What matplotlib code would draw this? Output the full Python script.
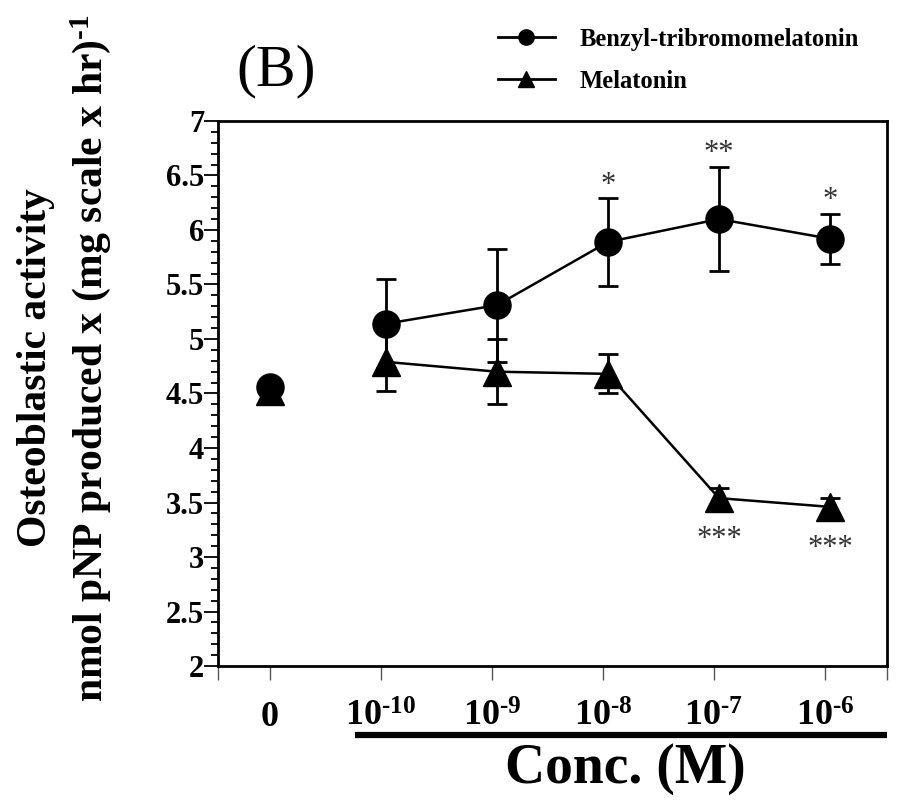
import numpy as np
import matplotlib
matplotlib.use("Agg")
from matplotlib import pyplot as plt
from matplotlib.lines import Line2D
from matplotlib.ticker import MultipleLocator

plt.rcParams['font.family'] = ['Liberation Serif', 'DejaVu Serif']
plt.rcParams['font.weight'] = 'bold'
plt.rcParams['mathtext.fontset'] = 'custom'
plt.rcParams['mathtext.rm'] = 'Liberation Serif:bold'
plt.rcParams['mathtext.bf'] = 'Liberation Serif:bold'
plt.rcParams['mathtext.it'] = 'Liberation Serif:bold'
plt.rcParams['mathtext.default'] = 'bf'

HY = '\u2010'  # plain hyphen, as in the original superscripts
conc_labels = ['0'] + [r'$10^{%s%d}$' % (HY, p) for p in (10, 9, 8, 7, 6)]
benzyl_mean = [4.56, 5.14, 5.31, 5.89, 6.10, 5.92]
benzyl_err = [0.0, 0.41, 0.52, 0.40, 0.48, 0.23]
melatonin_mean = [4.52, 4.79, 4.70, 4.68, 3.54, 3.46]
melatonin_err = [0.0, 0.27, 0.30, 0.18, 0.09, 0.08]
benzyl_stars = ['', '', '', '*', '**', '*']
melatonin_stars = ['', '', '', '', '***', '***']

xs = np.arange(len(conc_labels))
xp = xs + np.where(xs > 0, 0.045, 0.0)

fig = plt.figure(figsize=(8.97, 8.07), dpi=100)
ax = fig.add_axes([0.2430, 0.1747, 0.7459, 0.6754])

style = dict(color='black', markersize=19.5, linewidth=1.8, elinewidth=2.0,
             capsize=7, capthick=2.0)
# control (0) is not joined to the concentration series
ax.errorbar(xp[1:], melatonin_mean[1:], yerr=melatonin_err[1:], marker='^', zorder=3, **style)
ax.errorbar(xp[1:], benzyl_mean[1:], yerr=benzyl_err[1:], marker='o', zorder=4, **style)
ax.plot(xp[:1], melatonin_mean[:1], '^', color='black', markersize=19.5, zorder=3)
ax.plot(xp[:1], benzyl_mean[:1], 'o', color='black', markersize=19.5, zorder=4)

for x, m, e, s in zip(xp, benzyl_mean, benzyl_err, benzyl_stars):
    if s:
        ax.text(x, m + e + 0.12, s, ha='center', va='center', fontsize=22,
                fontweight='normal', color='#333333')
for x, m, s in zip(xp, melatonin_mean, melatonin_stars):
    if s:
        ax.text(x, m - 0.38, s, ha='center', va='center', fontsize=22,
                fontweight='normal', color='#333333')

ax.set_xlim(-0.468, 5.559)
ax.set_ylim(2, 7)
ax.set_xticks(list(xs) + [-0.468, 5.559])
ax.set_xticklabels(conc_labels + ['', ''])
ax.yaxis.set_minor_locator(MultipleLocator(0.1))
ax.set_yticks(np.arange(2, 7.01, 0.5))
ax.set_yticklabels(['2', '2.5', '3', '3.5', '4', '4.5', '5', '5.5', '6', '6.5', '7'])

ax.tick_params(axis='y', which='major', direction='out', length=10, width=1.3,
               labelsize=22, pad=0)
ax.tick_params(axis='y', which='minor', direction='out', length=5, width=1.3)
ax.tick_params(axis='x', which='major', direction='out', length=10, width=1.0,
               color='#555555', labelsize=26, pad=15)
for lab in ax.get_yticklabels():
    lab.set_fontweight('bold')

for sp in ax.spines.values():
    sp.set_linewidth(2.0)

# bar under the concentration labels
ax.plot([0.77, 5.559], [-0.1266, -0.1266], color='black', linewidth=4.5,
        transform=ax.get_xaxis_transform(), clip_on=False, solid_capstyle='butt')

fig.text(0.697, 0.047, 'Conc. (M)', ha='center', va='center', fontsize=40,
         fontweight='bold')
fig.text(0.308, 0.912, '(B)', ha='center', va='center', fontsize=43,
         fontweight='normal')
fig.text(0.040, 0.544, 'Osteoblastic activity', rotation=90, ha='center',
         va='center', fontsize=30, fontweight='bold')
fig.text(0.101, 0.556, r'nmol pNP produced x (mg scale x hr)$^{%s1}$' % HY, rotation=90,
         ha='center', va='center', fontsize=30, fontweight='bold')

handles = [Line2D([], [], color='black', marker='o', markersize=11, linewidth=2.0),
           Line2D([], [], color='black', marker='^', markersize=12, linewidth=2.0)]
fig.legend(handles, ['Benzyl-tribromomelatonin', 'Melatonin'], loc='upper left',
           bbox_to_anchor=(0.530, 0.993), frameon=False,
           handlelength=2.35, handletextpad=1.0, labelspacing=0.78,
           prop={'weight': 'bold', 'size': 17.7})

fig.savefig('out.png', dpi=100)
